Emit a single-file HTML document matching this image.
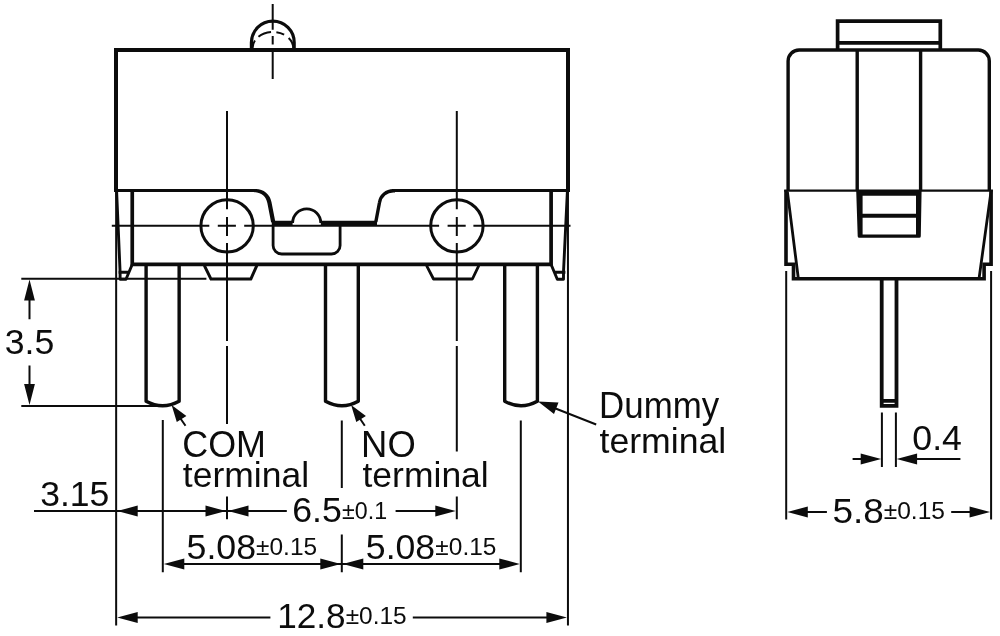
<!DOCTYPE html>
<html lang="en">
<head>
<meta charset="utf-8">
<title>Switch dimensions</title>
<style>
html,body{margin:0;padding:0;background:#fff;}
body{width:1000px;height:636px;overflow:hidden;}
svg{display:block;will-change:transform;}
text{font-family:"Liberation Sans",sans-serif;fill:#0c0c0c;}
.k{stroke:#0c0c0c;fill:none;stroke-width:4;stroke-linejoin:miter;}
.m{stroke:#0c0c0c;fill:none;stroke-width:3.4;stroke-linejoin:round;}
.n{stroke:#0c0c0c;fill:none;stroke-width:2.8;stroke-linejoin:round;}
.t{stroke:#0c0c0c;fill:none;stroke-width:2;}
.a{fill:#0c0c0c;stroke:none;}
</style>
</head>
<body>
<svg width="1000" height="636" viewBox="0 0 1000 636">
<rect width="1000" height="636" fill="#fff"/>

<!-- front view -->
<g id="front">
  <path class="m" style="stroke-width:3.2" d="M251.4 49.8 V42.6 A21.4 21.4 0 0 1 294.2 42.6 V49.8"/>
  <path class="t" stroke-dasharray="8 5 13.5 5.5 8 5.5 14" d="M252.6 48 A20.3 16 0 0 1 293.2 48"/>
  <path class="t" d="M272.7 4 V29.8 M272.7 36 V44.6 M272.7 51 V79"/>
  <path class="k" d="M116 192 V50 H568 V192"/>
  <path class="m" style="stroke-width:3" d="M114 190.5 H257 M392 190.5 H570"/>
  <path class="a" d="M250 189 H255.9 A15.8 15.8 0 0 1 271.46 202.1 L275.26 221.6 L271.14 222.4 L267.34 202.9 C265.8 196.5 262 192 251 192 H250 Z"/>
  <path class="m" style="stroke-width:3.4" d="M375.8 222 L379.5 202.5 A14 14 0 0 1 393.3 190.7 H395"/>
  <path class="k" style="stroke-width:4.8" d="M271.8 223.1 H292.6 M320.8 223.1 H377"/>
  <path class="n" d="M292.6 223 A14 14 0 0 1 320.8 223"/>
  <path class="n" d="M273.1 225 V245.4 A8.6 8.6 0 0 0 281.7 254 H331.5 A8.6 8.6 0 0 0 340.1 245.4 V225"/>
  <path class="m" style="stroke-width:3.7;stroke-linejoin:miter" d="M132.25 190.5 V264.35 H551.1 V190.5"/>
  <!-- latches -->
  <path class="n" style="stroke-width:2.9" d="M116.6 191 L120.1 272 V279.2 H126 L132.2 264.5 M118.4 272.2 H128.4"/>
  <path class="n" style="stroke-width:2.9" d="M567.4 191 L563.5 272 V279.2 H557.3 L551.1 264.5 M565.4 272.2 H554.6"/>
  <circle class="n" style="stroke-width:3" cx="227.1" cy="225.85" r="26.2"/>
  <circle class="n" style="stroke-width:3" cx="456.9" cy="225.85" r="26.2"/>
  <path class="n" style="stroke-width:3" d="M204.4 265.6 L211 279.1 H250.8 L256.8 265.6"/>
  <path class="n" d="M426.6 265.6 L433.5 279 H472.4 L478.8 265.6"/>
  <path class="m" d="M146.1 265 V401.3 Q162.6 410.3 179.15 401.3 V265"/>
  <path class="m" d="M325.5 265 V401.3 Q342 410.3 358.3 401.3 V265"/>
  <path class="m" d="M504.7 265 V401.3 Q521 410.3 537.4 401.3 V265"/>
  <!-- centre lines -->
  <path class="t" d="M111.8 225.85 H209.3 M217.8 225.85 H235.9 M244.2 225.85 H439.1 M447.6 225.85 H465.7 M473.4 225.85 H570.5"/>
  <path class="t" d="M227 111 V209.3 M227 217 V235.9 M227 243 V340.9 M227 346.1 V424 M227 496.6 V519.2"/>
  <path class="t" d="M456.8 111 V209.3 M456.8 217 V235.9 M456.8 243 V340.9 M456.8 346.1 V451.5 M456.8 496.6 V519.2"/>
</g>

<!-- front dimensions -->
<g id="fdim">
  <path class="t" d="M116.15 190 V625.6 M567.95 190 V625.6 M162.8 420 V572.3 M341.8 420.5 V488 M341.8 534.5 V572.3 M520.8 420.5 V572.3"/>
  <path class="t" d="M21.3 278.7 H206.4 M21.3 406 H163"/>
  <path class="t" d="M29.5 290 V319.2 M29.5 365.6 V395"/>
  <path class="a" d="M29.5 279.6 L24.1 300.6 H34.9 Z M29.5 405.1 L24.1 384.1 H34.9 Z"/>
  <path class="t" d="M185.5 425.8 L177 413.5 M364.8 425.8 L356.5 413.5 M596.2 424.5 L553 407.5"/>
  <path class="a" d="M171.6 405 L186.4 416 L176.8 422 Z M351.1 405 L365.9 416 L356.3 422 Z M538 401.6 L558.5 402.6 L554 414 Z"/>
  <path class="t" d="M34 511.1 H286.8 M395.6 511.1 H440"/>
  <path class="a" d="M117.2 511.1 L137.7 505.6 V516.6 Z M226 511.1 L205.5 505.6 V516.6 Z M228 511.1 L248.5 505.6 V516.6 Z M455.8 511.1 L435.3 505.6 V516.6 Z"/>
  <path class="t" d="M170 564 H515"/>
  <path class="a" d="M163.8 564 L184.3 558.5 V569.5 Z M340.8 564 L320.3 558.5 V569.5 Z M342.8 564 L363.3 558.5 V569.5 Z M519.8 564 L499.3 558.5 V569.5 Z"/>
  <path class="t" d="M125 617.5 H270.4 M412.8 617.5 H560"/>
  <path class="a" d="M117.2 617.5 L137.7 612 V623 Z M566.9 617.5 L546.4 612 V623 Z"/>
</g>

<!-- side view -->
<g id="side">
  <path class="m" style="stroke-width:3.7;stroke-linejoin:miter" d="M837.6 50 V21.2 H940.3 V50 M837.6 42.9 H940.3"/>
  <path class="m" d="M788.1 191 V61 A11 11 0 0 1 799.1 50 H978.3 A11 11 0 0 1 989.3 61 V191"/>
  <path class="m" d="M857.2 50 V191 M920.6 50 V191"/>
  <path class="n" style="stroke-width:2.4" d="M784.2 190.6 H992.9"/>
  <path class="m" style="stroke-width:3.6;stroke-linejoin:miter" d="M786 190 V264.3 H793.5 V278.8 H984.1 V264.3 H991.1 V190"/>
  <path class="n" style="stroke-width:2.8" d="M787.4 191.6 L798.2 277.5 M991 191.6 L979.2 277.5"/>
  <path class="a" fill-rule="evenodd" d="M856.2 190.6 H921.6 L920.8 236.2 Q920.7 237.8 919.2 237.8 H859.3 Q857.8 237.8 857.7 236.2 Z M862.6 195.8 V213.7 H916 V195.8 Z M862.6 217.8 V234.6 H916 V217.8 Z"/>
  <path class="m" style="stroke-width:3.8;stroke-linejoin:miter" d="M881.7 278 V405.8 H896.5 V278 M881.7 400.8 H896.5"/>
</g>
<g id="sdim">
  <path class="t" d="M786.2 271 V519.5 M991.1 271 V519.5 M881.9 412.5 V467 M895.9 412.5 V467"/>
  <path class="t" d="M852.6 458.9 H865 M912 458.9 H960.4"/>
  <path class="a" d="M881.2 458.9 L860.7 453.4 V464.4 Z M896.6 458.9 L917.1 453.4 V464.4 Z"/>
  <path class="t" d="M795 512 H826.9 M951.2 512 H982"/>
  <path class="a" d="M787.3 512 L807.8 506.5 V517.5 Z M990.1 512 L969.6 506.5 V517.5 Z"/>
</g>

<g id="txt">
  <text x="4.67" y="353.90" font-size="35.2" textLength="49.56" lengthAdjust="spacingAndGlyphs">3.5</text>
  <text x="182.31" y="439.42" font-size="35.2" textLength="83.67" lengthAdjust="spacingAndGlyphs" transform="scale(1 1.04)">COM</text>
  <text x="182.89" y="487.10" font-size="35.2" textLength="126.18" lengthAdjust="spacingAndGlyphs">terminal</text>
  <text x="361.09" y="439.42" font-size="35.2" textLength="54.64" lengthAdjust="spacingAndGlyphs" transform="scale(1 1.04)">NO</text>
  <text x="362.49" y="487.00" font-size="35.2" textLength="126.28" lengthAdjust="spacingAndGlyphs">terminal</text>
  <text x="599.11" y="401.73" font-size="35.2" textLength="120.04" lengthAdjust="spacingAndGlyphs" transform="scale(1 1.04)">Dummy</text>
  <text x="599.49" y="452.70" font-size="35.2" textLength="126.79" lengthAdjust="spacingAndGlyphs">terminal</text>
  <text x="40.18" y="506.20" font-size="35.2" textLength="69.17" lengthAdjust="spacingAndGlyphs">3.15</text>
  <text x="292.22" y="521.50" font-size="35.2" textLength="49.62" lengthAdjust="spacingAndGlyphs">6.5</text>
  <text x="342.10" y="518.60" font-size="23.8" textLength="45.04" lengthAdjust="spacingAndGlyphs">±0.1</text>
  <text x="186.57" y="558.90" font-size="35.2" textLength="69.48" lengthAdjust="spacingAndGlyphs">5.08</text>
  <text x="256.07" y="555.30" font-size="23.8" textLength="61.04" lengthAdjust="spacingAndGlyphs">±0.15</text>
  <text x="365.88" y="558.90" font-size="35.2" textLength="69.28" lengthAdjust="spacingAndGlyphs">5.08</text>
  <text x="435.37" y="555.30" font-size="23.8" textLength="61.04" lengthAdjust="spacingAndGlyphs">±0.15</text>
  <text x="277.19" y="628.20" font-size="35.2" textLength="68.45" lengthAdjust="spacingAndGlyphs">12.8</text>
  <text x="345.67" y="624.40" font-size="23.8" textLength="61.04" lengthAdjust="spacingAndGlyphs">±0.15</text>
  <text x="912.37" y="449.60" font-size="35.2" textLength="49.60" lengthAdjust="spacingAndGlyphs">0.4</text>
  <text x="832.42" y="522.60" font-size="35.2" textLength="51.36" lengthAdjust="spacingAndGlyphs">5.8</text>
  <text x="883.76" y="518.90" font-size="23.8" textLength="61.24" lengthAdjust="spacingAndGlyphs">±0.15</text>
</g>
</svg>
</body>
</html>
